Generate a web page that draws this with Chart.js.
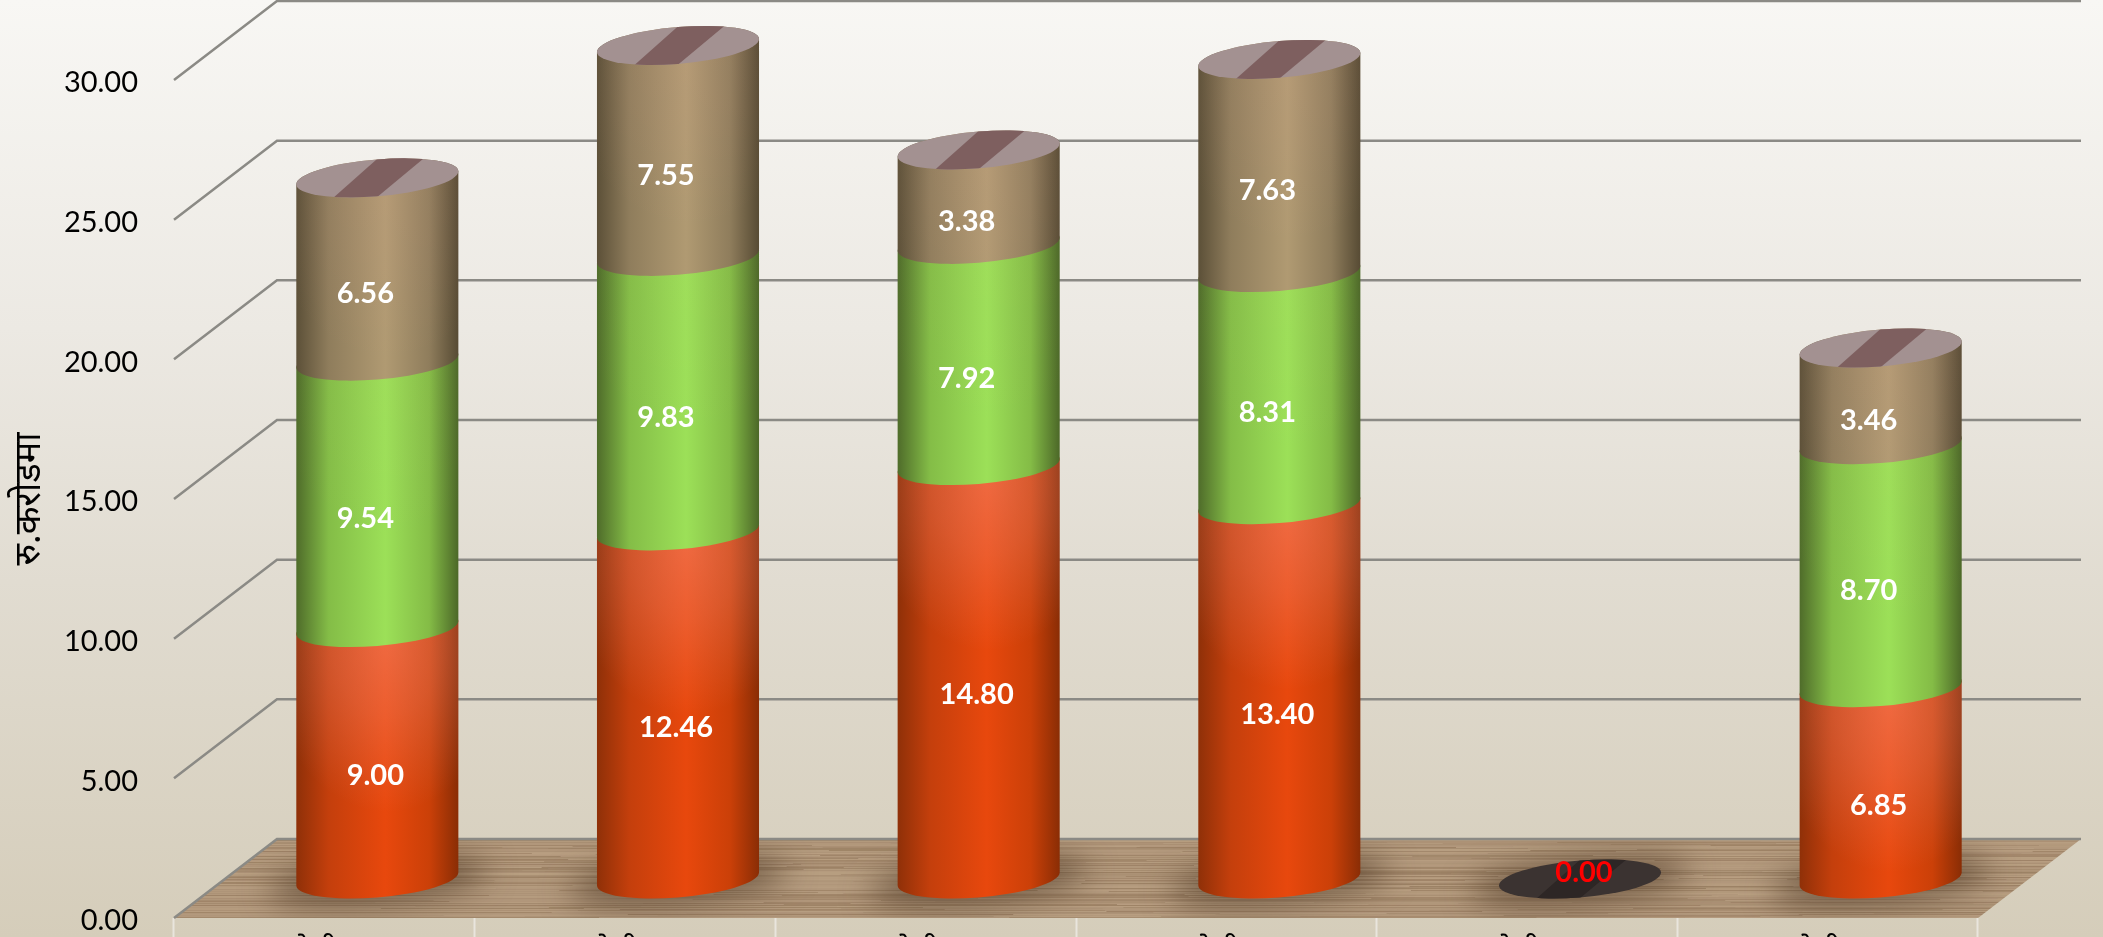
<!DOCTYPE html>
<html>
<head>
<meta charset="utf-8">
<title>Chart</title>
<script src="https://cdn.jsdelivr.net/npm/chart.js@4"></script>
<style>
  html, body { margin: 0; padding: 0; width: 2103px; height: 937px; overflow: hidden; }
  body { background: linear-gradient(180deg, #f8f7f4 0%, #ece9e3 35%, #e1dcd1 62%, #d5cdba 100%); }
  canvas { display: block; }
</style>
</head>
<body>
<canvas id="chart" width="2103" height="937"></canvas>
<script>
// Datos
const categories = ['श्रेणी १', 'श्रेणी २', 'श्रेणी ३', 'श्रेणी ४', 'श्रेणी ५', 'श्रेणी ६'];
const seriesRed = [9.00, 12.46, 14.80, 13.40, 0, 6.85];
const seriesGreen = [9.54, 9.83, 7.92, 8.31, 0, 8.70];
const seriesTan = [6.56, 7.55, 3.38, 7.63, 0, 3.46];
const yTicks = [0, 5, 10, 15, 20, 25, 30];
const yTitle = 'रु.करोडमा';

// Estilo del cilindro: colores de izquierda a derecha, brillo superior, ajuste de la etiqueta
const redStyle = { stops: ['#8f3008', '#c43f0c', '#e8480d', '#cb4008', '#8a2d05'], glow: 0.34, labelDx: -2, labelDy: 22.5 };
const greenStyle = { stops: ['#4f6c2a', '#84bd47', '#9ce058', '#84bc46', '#4c6828'], glow: 0.03, labelDx: -12, labelDy: 24 };
const tanStyle = { stops: ['#5c5038', '#8f7d5c', '#b09a72', '#8f7d5c', '#574b34'], glow: 0.08, labelDx: -12, labelDy: 24.5 };
const styles = [redStyle, greenStyle, tanStyle];

// Profundidad de la pared y centro de los cilindros
const depthX = 103, depthY = 79;
const midX = 53, midY = 39;

function noise(a, b) {
  const n = Math.sin(a * 12.9898 + b * 78.233) * 43758.5453;
  return n - Math.floor(n);
}

// Elipse inclinada de la tapa del cilindro
function ellipseTransform(ctx, cx, cy, rx) {
  const k = rx / 81;
  ctx.transform(rx, -6.5 * k, 0, 18.4 * k, cx, cy);
}

function tracePath(ctx, cx, topY, baseY, rx) {
  // lado izquierdo, arco frontal abajo, lado derecho, arco trasero arriba
  ctx.beginPath();
  ctx.save();
  ellipseTransform(ctx, cx, baseY, rx);
  ctx.arc(0, 0, 1, Math.PI, 0, true);
  ctx.restore();
  ctx.save();
  ellipseTransform(ctx, cx, topY, rx);
  ctx.arc(0, 0, 1, 0, Math.PI, true);
  ctx.restore();
  ctx.closePath();
}

function drawTop(ctx, cx, cy, rx, base, band) {
  ctx.save();
  ctx.beginPath();
  ctx.save();
  ellipseTransform(ctx, cx, cy, rx);
  ctx.arc(0, 0, 1, 0, Math.PI * 2);
  ctx.restore();
  ctx.closePath();
  ctx.fillStyle = base;
  ctx.fill();
  ctx.clip();
  ctx.beginPath();
  ctx.moveTo(cx + 1, cy - 20);
  ctx.lineTo(cx + 47, cy - 20);
  ctx.lineTo(cx - 1, cy + 20);
  ctx.lineTo(cx - 44, cy + 20);
  ctx.closePath();
  ctx.fillStyle = band;
  ctx.fill();
  ctx.restore();
}

// Pared, rejilla y suelo de madera
function drawBackdrop(chart) {
  const ctx = chart.ctx;
  const y = chart.scales.y, area = chart.chartArea;
  const zero = y.getPixelForValue(0);
  ctx.save();
  ctx.lineWidth = 2.5;
  ctx.strokeStyle = '#8b8a85';
  yTicks.forEach(v => {
    if (v === 0) return;
    const py = y.getPixelForValue(v);
    ctx.beginPath();
    ctx.moveTo(area.left, py);
    ctx.lineTo(area.left + depthX, py - depthY);
    ctx.lineTo(area.right + depthX, py - depthY);
    ctx.stroke();
  });

  ctx.beginPath();
  ctx.moveTo(area.left, zero);
  ctx.lineTo(area.left + depthX, zero - depthY);
  ctx.lineTo(area.right + depthX, zero - depthY);
  ctx.lineTo(area.right, zero);
  ctx.closePath();
  ctx.save();
  ctx.fillStyle = '#b0967a';
  ctx.fill();
  ctx.clip();
  ctx.filter = 'blur(0.6px)';
  for (let row = zero - depthY; row < zero; row += 1) {
    let x = area.left;
    while (x < area.right + depthX) {
      const len = 120 + noise(row, x) * 420;
      const n = noise(x * 0.3, row * 1.7);
      ctx.fillStyle = n > 0.5 ? 'rgba(214,190,156,' + ((n - 0.5) * 0.45) + ')' : 'rgba(110,80,50,' + ((0.5 - n) * 0.6) + ')';
      ctx.fillRect(x, row, len, 1);
      x += len;
    }
  }
  // sombras de los cilindros sobre el suelo
  ctx.filter = 'blur(16px)';
  ctx.fillStyle = 'rgba(60,40,22,0.58)';
  chart.getDatasetMeta(0).data.forEach(bar => {
    ctx.beginPath();
    ctx.ellipse(bar.x + midX, zero - midY + 2, bar.width * 0.68, 21, -0.1, 0, Math.PI * 2);
    ctx.fill();
  });
  ctx.restore();

  ctx.beginPath();
  ctx.moveTo(area.left, zero);
  ctx.lineTo(area.left + depthX, zero - depthY);
  ctx.lineTo(area.right + depthX, zero - depthY);
  ctx.stroke();
  ctx.restore();
}

// Dibuja cada barra apilada como cilindro usando la geometria de Chart.js
function drawCylinders(chart) {
  const ctx = chart.ctx;
  const n = categories.length;
  for (let i = 0; i < n; i++) {
    let lastBar = null, total = 0;
    styles.forEach((style, d) => {
      const bar = chart.getDatasetMeta(d).data[i];
      const value = chart.data.datasets[d].data[i];
      lastBar = bar;
      total += value;
      if (value === 0) return;
      const rx = bar.width / 2;
      const cx = bar.x + midX;
      const topY = bar.y - midY;
      const baseY = bar.base - midY;
      ctx.save();
      tracePath(ctx, cx, topY, baseY, rx);
      const g = ctx.createLinearGradient(cx - rx, 0, cx + rx, 0);
      [0, 0.2, 0.55, 0.82, 1].forEach((p, k) => g.addColorStop(p, style.stops[k]));
      ctx.fillStyle = g;
      ctx.fill();
      ctx.clip();
      // brillo en la parte alta del segmento, mas debil hacia los bordes
      ctx.translate(cx + 10, topY + 10);
      ctx.scale(125, 175);
      const h = ctx.createRadialGradient(0, 0, 0, 0, 0, 1);
      h.addColorStop(0, 'rgba(255,170,165,' + style.glow + ')');
      h.addColorStop(0.45, 'rgba(255,170,165,' + style.glow * 0.62 + ')');
      h.addColorStop(1, 'rgba(255,170,165,0)');
      ctx.fillStyle = h;
      ctx.fillRect(-1, -1, 2, 2);
      ctx.restore();
    });
    const rx = lastBar.width / 2;
    const cx = lastBar.x + midX;
    if (total === 0) {
      drawTop(ctx, cx, lastBar.y - midY, rx, '#3b3331', '#2d2625');
    } else {
      drawTop(ctx, cx, lastBar.y - midY, rx, '#a39191', '#7e5f5f');
    }
  }
  // Etiquetas de valor
  ctx.save();
  ctx.font = 'bold 29px Lato';
  ctx.textAlign = 'center';
  ctx.textBaseline = 'middle';
  for (let i = 0; i < n; i++) {
    let total = 0;
    styles.forEach((style, d) => {
      const bar = chart.getDatasetMeta(d).data[i];
      const value = chart.data.datasets[d].data[i];
      total += value;
      if (value === 0) return;
      ctx.fillStyle = '#ffffff';
      ctx.fillText(value.toFixed(2), bar.x + midX + style.labelDx, (bar.y + bar.base) / 2 - midY + style.labelDy);
    });
    if (total === 0) {
      const bar = chart.getDatasetMeta(0).data[i];
      ctx.fillStyle = '#ff0000';
      ctx.fillText('0.00', bar.x + midX + 4, bar.y - midY - 6);
    }
  }
  ctx.restore();
}

const cylinderPlugin = {
  id: 'cylinders',
  beforeDatasetsDraw(chart) {
    drawBackdrop(chart);
  },
  afterDatasetsDraw(chart) {
    drawCylinders(chart);
  }
};

function makeDataset(label, data) {
  return { label: label, data: data, backgroundColor: 'rgba(0,0,0,0)', borderWidth: 0 };
}

new Chart(document.getElementById('chart'), {
  type: 'bar',
  data: {
    labels: categories,
    datasets: [
      makeDataset('Red', seriesRed),
      makeDataset('Green', seriesGreen),
      makeDataset('Tan', seriesTan)
    ]
  },
  plugins: [cylinderPlugin],
  options: {
    responsive: false,
    animation: false,
    devicePixelRatio: 1,
    layout: { padding: { left: 0, right: 125, top: 80, bottom: 0 } },
    plugins: { legend: { display: false }, tooltip: { enabled: false } },
    datasets: { bar: { categoryPercentage: 1, barPercentage: 0.539 } },
    scales: {
      x: {
        stacked: true,
        afterFit: s => { s.height = 19; s.paddingLeft = 0; s.paddingRight = 0; },
        border: { display: false },
        grid: { drawOnChartArea: false, drawTicks: true, tickLength: 19, tickColor: '#e9e5dd', tickWidth: 2 },
        ticks: { color: '#000', padding: -3, maxRotation: 0, font: { family: '"Noto Sans", Lato', size: 28 } }
      },
      y: {
        stacked: true,
        min: 0,
        max: 30,
        afterFit: s => { s.width = 174; s.paddingTop = 0; s.paddingBottom = 0; },
        border: { display: false },
        grid: { display: false },
        title: { display: true, text: yTitle, color: '#000', padding: { top: 8, bottom: 0 }, font: { family: '"Noto Sans", Lato', size: 36 } },
        ticks: {
          stepSize: 5,
          padding: 28,
          labelOffset: 3,
          color: '#000',
          font: { family: 'Lato', size: 29 },
          callback: v => v.toFixed(2)
        }
      }
    }
  }
});
</script>
</body>
</html>
